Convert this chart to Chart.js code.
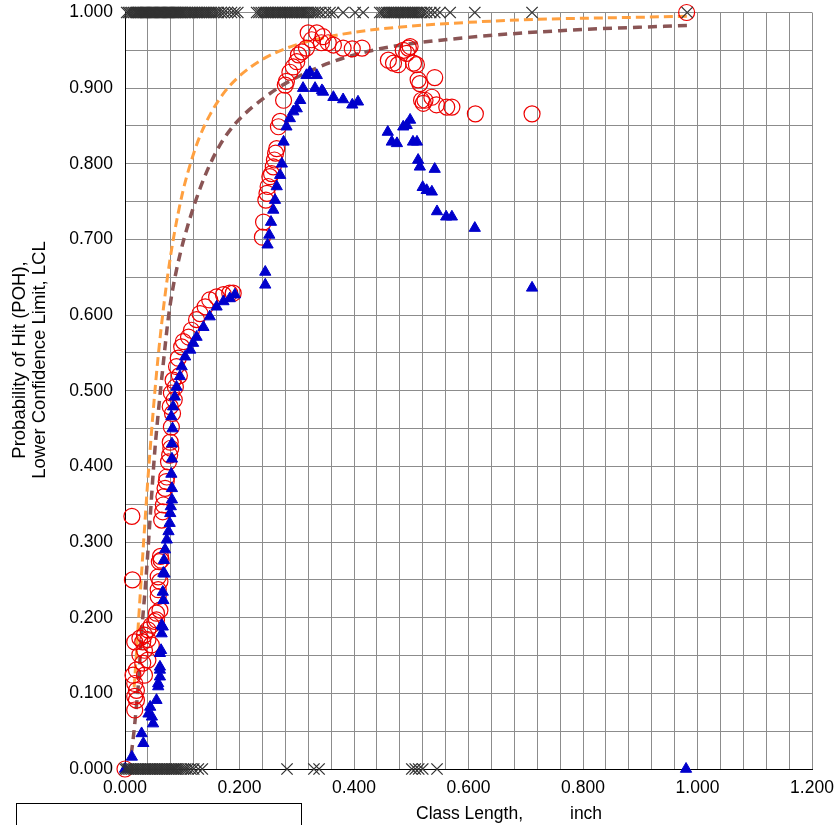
<!DOCTYPE html>
<html>
<head>
<meta charset="utf-8">
<script src="https://cdn.jsdelivr.net/npm/chart.js@4.4.1/dist/chart.umd.min.js"></script>
<style>
  html, body { margin: 0; padding: 0; background: #fff; }
  #wrap { width: 834px; height: 825px; }
</style>
</head>
<body>
<div id="wrap"><canvas id="chart" width="834" height="825"></canvas></div>
<script>
// POH per class (red circles)
const pohX = [0.000, 0.012, 0.013, 0.014, 0.017, 0.017, 0.017, 0.017, 0.020, 0.020, 0.020, 0.026, 0.026,
  0.031, 0.031, 0.034, 0.034, 0.034, 0.040, 0.040, 0.040, 0.046, 0.046, 0.052, 0.055, 0.055, 0.058, 0.058,
  0.058, 0.060, 0.061, 0.061, 0.062, 0.063, 0.064, 0.066, 0.067, 0.068, 0.070, 0.072, 0.073, 0.076, 0.078,
  0.080, 0.079, 0.081, 0.079, 0.083, 0.081, 0.086, 0.084, 0.088, 0.090, 0.093, 0.095, 0.099, 0.102, 0.111,
  0.116, 0.125, 0.131, 0.140, 0.148, 0.160, 0.172, 0.183, 0.189,
  0.240, 0.242, 0.246, 0.248, 0.250, 0.253, 0.256, 0.259, 0.261, 0.263, 0.265, 0.268, 0.271, 0.277, 0.280,
  0.282, 0.288, 0.294, 0.300, 0.303, 0.309, 0.317, 0.320, 0.326, 0.335, 0.343, 0.346, 0.355, 0.364, 0.381,
  0.397, 0.414,
  0.460, 0.469, 0.477, 0.486, 0.492, 0.495, 0.498, 0.504, 0.509, 0.512, 0.515, 0.541, 0.518, 0.521, 0.524,
  0.536, 0.544, 0.562, 0.571, 0.612, 0.711, 0.981];
const pohY = [0.000, 0.334, 0.250, 0.124, 0.168, 0.113, 0.096, 0.078, 0.131, 0.104, 0.091, 0.173, 0.151,
  0.168, 0.140, 0.177, 0.157, 0.124, 0.184, 0.171, 0.144, 0.190, 0.164, 0.195, 0.206, 0.197, 0.228, 0.237,
  0.254, 0.274, 0.248, 0.210, 0.281, 0.276, 0.329, 0.340, 0.349, 0.360, 0.371, 0.380, 0.386, 0.406, 0.415,
  0.424, 0.432, 0.452, 0.479, 0.470, 0.497, 0.488, 0.514, 0.505, 0.532, 0.543, 0.520, 0.558, 0.565, 0.571,
  0.580, 0.594, 0.602, 0.611, 0.620, 0.624, 0.627, 0.629, 0.629,
  0.703, 0.723, 0.752, 0.761, 0.770, 0.783, 0.787, 0.796, 0.805, 0.814, 0.820, 0.849, 0.856, 0.884, 0.904,
  0.909, 0.921, 0.928, 0.935, 0.944, 0.948, 0.953, 0.973, 0.964, 0.973, 0.960, 0.968, 0.960, 0.957, 0.953,
  0.952, 0.953,
  0.937, 0.933, 0.931, 0.950, 0.946, 0.953, 0.955, 0.933, 0.931, 0.911, 0.906, 0.914, 0.884, 0.880, 0.884,
  0.888, 0.878, 0.875, 0.875, 0.866, 0.866, 1.000];

// lower confidence limit per class (blue triangles)
const lclX = [0.000, 0.012, 0.029, 0.032, 0.041, 0.044, 0.047, 0.049, 0.055, 0.058, 0.058, 0.061, 0.061,
  0.061, 0.061, 0.063, 0.064, 0.064, 0.066, 0.066, 0.067, 0.067, 0.069, 0.068, 0.070, 0.073, 0.076, 0.078,
  0.079, 0.080, 0.082, 0.082, 0.081, 0.082, 0.082, 0.083, 0.081, 0.084, 0.087, 0.090, 0.096, 0.099, 0.105,
  0.114, 0.119, 0.125, 0.137, 0.148, 0.160, 0.172, 0.183, 0.192,
  0.245, 0.245, 0.249, 0.252, 0.255, 0.259, 0.262, 0.265, 0.271, 0.274, 0.277, 0.282, 0.288, 0.294, 0.300,
  0.306, 0.311, 0.317, 0.323, 0.335, 0.332, 0.344, 0.346, 0.364, 0.381, 0.397, 0.407,
  0.459, 0.466, 0.475, 0.486, 0.492, 0.498, 0.503, 0.510, 0.512, 0.515, 0.541, 0.520, 0.527, 0.536, 0.545,
  0.561, 0.571, 0.611, 0.711, 0.980];
const lclY = [0.000, 0.016, 0.047, 0.034, 0.073, 0.082, 0.069, 0.060, 0.091, 0.109, 0.113, 0.122, 0.131,
  0.135, 0.153, 0.157, 0.179, 0.190, 0.188, 0.234, 0.223, 0.259, 0.258, 0.276, 0.290, 0.303, 0.314, 0.325,
  0.338, 0.347, 0.356, 0.371, 0.390, 0.410, 0.430, 0.450, 0.466, 0.479, 0.492, 0.505, 0.519, 0.532, 0.545,
  0.554, 0.563, 0.571, 0.584, 0.598, 0.611, 0.618, 0.622, 0.627,
  0.640, 0.657, 0.693, 0.706, 0.723, 0.739, 0.752, 0.770, 0.785, 0.800, 0.829, 0.849, 0.860, 0.869, 0.873,
  0.884, 0.900, 0.917, 0.921, 0.917, 0.900, 0.897, 0.895, 0.888, 0.885, 0.878, 0.882,
  0.842, 0.829, 0.827, 0.849, 0.851, 0.858, 0.829, 0.829, 0.805, 0.796, 0.793, 0.769, 0.765, 0.763, 0.737,
  0.730, 0.730, 0.715, 0.636, 0.000];

// inspection outcomes: hits plotted at 1, misses at 0
const hitX = [0.003, 0.006, 0.009, 0.012, 0.015, 0.018, 0.020, 0.022, 0.024, 0.026, 0.028, 0.030, 0.032,
  0.034, 0.036, 0.038, 0.040, 0.042, 0.044, 0.046, 0.048, 0.050, 0.052, 0.054, 0.056, 0.058, 0.060, 0.062,
  0.064, 0.066, 0.068, 0.070, 0.072, 0.074, 0.076, 0.078, 0.080, 0.082, 0.084, 0.086, 0.088, 0.090, 0.092,
  0.094, 0.096, 0.098, 0.100, 0.103, 0.106, 0.109, 0.112, 0.115, 0.118, 0.121, 0.124, 0.127, 0.130, 0.133,
  0.136, 0.139, 0.142, 0.145, 0.148, 0.151, 0.155, 0.159, 0.163, 0.168, 0.173, 0.179, 0.186, 0.192, 0.197,
  0.230, 0.234, 0.238, 0.242, 0.245, 0.248, 0.251, 0.254, 0.257, 0.260, 0.263, 0.266, 0.269, 0.272, 0.275,
  0.278, 0.281, 0.284, 0.287, 0.290, 0.293, 0.296, 0.299, 0.302, 0.305, 0.308, 0.311, 0.314, 0.317, 0.320,
  0.324, 0.328, 0.332, 0.337, 0.342, 0.350, 0.358,
  0.364, 0.381, 0.402, 0.416,
  0.445, 0.449, 0.453, 0.457, 0.460, 0.463, 0.466, 0.469, 0.472, 0.475, 0.478, 0.481, 0.484, 0.487, 0.490,
  0.493, 0.496, 0.499, 0.502, 0.505, 0.508, 0.511, 0.514, 0.518, 0.522, 0.527, 0.534, 0.541, 0.550, 0.568,
  0.611, 0.711, 0.982];
const missX = [0.000, 0.003, 0.006, 0.009, 0.012, 0.015, 0.018, 0.021, 0.024, 0.027, 0.030, 0.033, 0.036,
  0.039, 0.042, 0.045, 0.048, 0.051, 0.054, 0.057, 0.060, 0.063, 0.066, 0.069, 0.072, 0.075, 0.078, 0.081,
  0.084, 0.087, 0.090, 0.094, 0.098, 0.102, 0.106, 0.110, 0.115, 0.120, 0.128, 0.135,
  0.283, 0.330, 0.339, 0.501, 0.507, 0.513, 0.520, 0.545];
const hitValue = 1;
const missValue = 0;

// fitted POH curve (orange dashed) and its lower bound (brown dashed)
const fitPohX = [0.016, 0.020, 0.025, 0.030, 0.035, 0.040, 0.045, 0.050, 0.058, 0.067, 0.076, 0.085, 0.100,
  0.115, 0.130, 0.150, 0.175, 0.200, 0.240, 0.290, 0.350, 0.420, 0.500, 0.600, 0.720, 0.850, 0.985];
const fitPohY = [0.108, 0.153, 0.212, 0.271, 0.328, 0.383, 0.433, 0.480, 0.546, 0.608, 0.660, 0.703, 0.760,
  0.802, 0.835, 0.867, 0.896, 0.916, 0.938, 0.955, 0.967, 0.976, 0.982, 0.987, 0.991, 0.993, 0.995];
const fitLclX = [0.011, 0.015, 0.019, 0.023, 0.029, 0.037, 0.044, 0.052, 0.058, 0.067, 0.076, 0.084, 0.096,
  0.108, 0.122, 0.143, 0.166, 0.195, 0.248, 0.282, 0.363, 0.445, 0.585, 0.760, 0.987];
const fitLclY = [0.020, 0.045, 0.075, 0.109, 0.180, 0.255, 0.333, 0.420, 0.470, 0.537, 0.598, 0.637, 0.680,
  0.714, 0.748, 0.790, 0.825, 0.855, 0.890, 0.907, 0.935, 0.952, 0.966, 0.976, 0.983];

const yTitle = ['Probability of Hit (POH),', 'Lower Confidence Limit, LCL'];
const xTitleLeft = 'Class Length,';
const xTitleRight = 'inch';

const FONT = "'Liberation Sans', Arial, sans-serif";
const pts = (xs, ys) => xs.map((x, i) => ({ x: x, y: ys[i] }));
const row = (xs, v) => xs.map(x => ({ x: x, y: v }));

// axis titles and the empty legend frame under the plot
const extras = {
  id: 'extras',
  afterDraw(chart) {
    const c = chart.ctx;
    c.save();
    c.fillStyle = '#000';
    c.font = '17.5px ' + FONT;
    c.textBaseline = 'middle';
    c.textAlign = 'left';
    c.fillText(xTitleLeft, 416, 814);
    c.fillText(xTitleRight, 570, 814);

    c.save();
    c.translate(0, 360);
    c.rotate(-Math.PI / 2);
    c.textAlign = 'center';
    c.font = '18.5px ' + FONT;
    c.fillText(yTitle[0], 0, 20);
    c.fillText(yTitle[1], 0, 40);
    c.restore();

    c.strokeStyle = '#000';
    c.lineWidth = 1;
    c.strokeRect(16.5, 803.5, 285, 40);
    c.restore();
  }
};

new Chart(document.getElementById('chart'), {
  type: 'scatter',
  data: {
    datasets: [
      {
        label: 'Hit/Miss',
        data: row(hitX, hitValue).concat(row(missX, missValue)),
        pointStyle: 'crossRot',
        pointRadius: 8,
        borderColor: '#333333',
        borderWidth: 1.3,
        clip: false,
        order: 1
      },
      {
        label: 'LCL',
        data: pts(lclX, lclY),
        pointStyle: 'triangle',
        pointRadius: 6.5,
        backgroundColor: '#0000cc',
        borderColor: '#0000cc',
        borderWidth: 1,
        clip: false,
        order: 2
      },
      {
        label: 'POH',
        data: pts(pohX, pohY),
        pointStyle: 'circle',
        pointRadius: 8,
        backgroundColor: 'rgba(0,0,0,0)',
        borderColor: '#ee0000',
        borderWidth: 1.2,
        clip: false,
        order: 3
      },
      {
        label: 'POH fit',
        data: pts(fitPohX, fitPohY),
        showLine: true,
        pointRadius: 0,
        borderColor: '#ffa040',
        borderWidth: 3,
        borderDash: [9, 5],
        cubicInterpolationMode: 'monotone',
        order: 4
      },
      {
        label: 'LCL fit',
        data: pts(fitLclX, fitLclY),
        showLine: true,
        pointRadius: 0,
        borderColor: '#8a5555',
        borderWidth: 3.5,
        borderDash: [9, 6],
        cubicInterpolationMode: 'monotone',
        order: 5
      }
    ]
  },
  options: {
    responsive: false,
    animation: false,
    layout: { padding: { top: 12.5, right: 22, bottom: 0, left: 0 } },
    plugins: {
      legend: { display: false },
      tooltip: { enabled: false }
    },
    scales: {
      x: {
        type: 'linear',
        min: 0,
        max: 1.2,
        // fixed band below the plot; end labels may hang into the page margin
        afterFit: function (s) {
          s.height = 56;
          s.paddingLeft = 0;
          s.paddingRight = 0;
        },
        grid: { color: '#8c8c8c', drawTicks: false },
        border: { color: '#000', width: 1 },
        ticks: {
          stepSize: 0.04,
          autoSkip: false,
          maxRotation: 0,
          padding: 9,
          color: '#000',
          font: { family: FONT, size: 17.5 },
          callback: function (v) {
            return Math.round(v * 100) % 20 === 0 ? v.toFixed(3) : '';
          }
        }
      },
      y: {
        type: 'linear',
        min: 0,
        max: 1,
        afterFit: function (s) {
          s.width = 125;
          s.paddingTop = 0;
          s.paddingBottom = 0;
        },
        grid: { color: '#8c8c8c', drawTicks: false },
        border: { color: '#000', width: 1 },
        ticks: {
          stepSize: 0.05,
          autoSkip: false,
          padding: 12,
          color: '#000',
          font: { family: FONT, size: 17.5 },
          callback: function (v) {
            return Math.round(v * 100) % 10 === 0 ? v.toFixed(3) : '';
          }
        }
      }
    }
  },
  plugins: [extras]
});
</script>
</body>
</html>
